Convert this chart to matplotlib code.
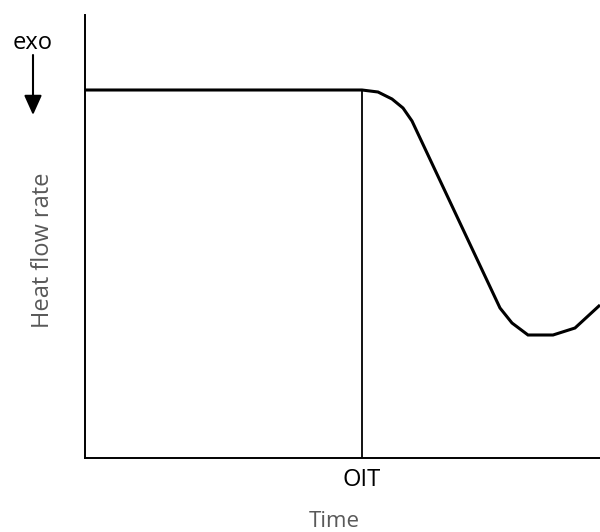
import matplotlib
matplotlib.use("Agg")
import matplotlib.pyplot as plt
from matplotlib.patches import FancyArrowPatch

# DSC oxidation-induction-time trace (arbitrary units)
time = [0, 277, 293, 307, 318, 327, 415, 427, 443, 468, 490, 515]
heat_flow = [368, 368, 366, 359, 350, 337, 150, 135, 123, 123, 130, 153]
oit_time = 277

plt.rcParams['font.family'] = ['Open Sans', 'DejaVu Sans']
FS = 17

fig = plt.figure(figsize=(6.0, 5.32), dpi=100)
ax = fig.add_axes([85/600, 74/532, 515/600, 443/532])
ax.set_xlim(0, 515)
ax.set_ylim(0, 443)

ax.plot(time, heat_flow, color='black', lw=2.2, solid_joinstyle='miter',
        solid_capstyle='butt', clip_on=False)
ax.plot([oit_time, oit_time], [0, heat_flow[1]], color='black', lw=1.3)

for s in ['top', 'right']:
    ax.spines[s].set_visible(False)
for s in ['left', 'bottom']:
    ax.spines[s].set_linewidth(1.4)

ax.set_xticks([oit_time])
ax.set_xticklabels(['OIT'], fontsize=FS)
ax.tick_params(axis='x', length=0, pad=7)
ax.set_yticks([])

ax.set_xlabel('Time', fontsize=16, color='#595959', va='baseline')
ax.xaxis.set_label_coords(0.5 - 8/515, -69/443)
ax.set_ylabel('Heat flow rate', fontsize=FS, color='#595959', va='center')
ax.yaxis.set_label_coords(-42/515, 0.47)

fig.text(33/600, 1 - 43/532, 'exo', fontsize=FS, ha='center', va='center')
fig.add_artist(FancyArrowPatch(
    (33/600, 1 - 55/532), (33/600, 1 - 115/532), transform=fig.transFigure,
    arrowstyle='-|>,head_length=0.6,head_width=0.27', mutation_scale=20,
    shrinkA=0, shrinkB=0, color='black', lw=1.5))

fig.savefig('out.png', dpi=100)
